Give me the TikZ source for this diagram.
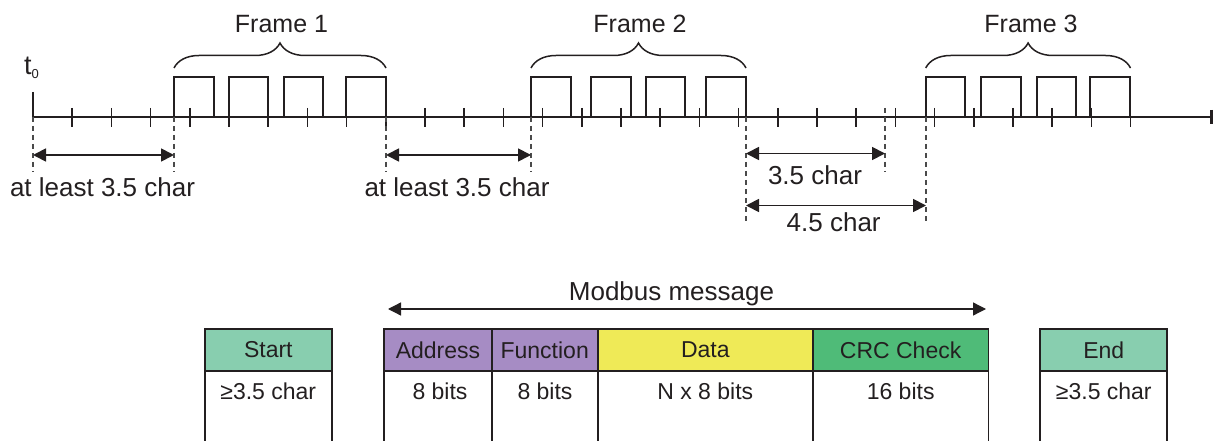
\documentclass[tikz,border=0pt]{standalone}
\usepackage{fontspec}
\setmainfont{Liberation Sans}
\usetikzlibrary{arrows.meta,decorations.pathreplacing}
\definecolor{ink}{HTML}{231F20}
\definecolor{mint}{HTML}{88CEAF}
\definecolor{lav}{HTML}{A68CC4}
\definecolor{yel}{HTML}{EFEA57}
\definecolor{grn}{HTML}{4FBB78}
\definecolor{dashc}{HTML}{4A4A4A}
\begin{document}
\begin{tikzpicture}[x=1pt,y=-1pt,
  axisline/.style={line width=2.2pt, draw=ink},
  tickline/.style={line width=1.5pt, draw=ink},
  pulse/.style={line width=1.8pt, draw=ink},
  guide/.style={line width=1.2pt, draw=dashc, dash pattern=on 5pt off 4pt},
  dim/.style={line width=1.8pt, draw=ink, {Triangle[length=13pt,width=13pt]}-{Triangle[length=13pt,width=13pt]}},
  msgarrow/.style={line width=1.3pt, draw=ink, {Triangle[length=13pt,width=13pt]}-{Triangle[length=13pt,width=13pt]}},
  framebrace/.style={line width=1.5pt, draw=ink, decorate, decoration={brace, amplitude=25pt}},
  lbl/.style={font=\fontsize{26}{30}\selectfont, text=ink, inner sep=0pt, anchor=base},
  framelbl/.style={font=\fontsize{25}{30}\selectfont, text=ink, inner sep=0pt, anchor=base},
  cell/.style={draw=ink, line width=1.7pt, inner sep=0pt, outer sep=0pt, minimum height=42pt, font=\fontsize{23}{27}\selectfont, text=ink},
  celltext/.style={font=\fontsize{23}{27}\selectfont, text=ink, inner sep=0pt, anchor=base},
  cellside/.style={draw=ink, line width=1.7pt},
]
\useasboundingbox (0,0) rectangle (1213,441);

% time axis
\coordinate (ax0) at (33,117);
\coordinate (ax1) at (1211,117);
\draw[axisline] (ax0) -- (ax1);
\draw[line width=2.6pt, draw=ink] (1211.5,110) -- (1211.5,124);
\coordinate (t0top) at (33,92);
\draw[line width=1.8pt, draw=ink] (t0top) -- (ax0);
\node[anchor=base west, inner sep=0pt, text=ink, font=\fontsize{27}{30}\selectfont] (t0) at (24,75)
  {t\raisebox{-3.5pt}{\fontsize{13}{13}\selectfont 0}};

% ticks
\foreach \k in {1,...,28} \draw[tickline] ({33+39.2*\k},108) -- ({33+39.2*\k},127);

% pulses
\foreach \a/\b in {174/213.7, 228.7/268, 284/323.3, 346/386,
                   531/570.7, 591/630.7, 645.7/685, 706.3/746,
                   925.7/965, 981.3/1021, 1037/1076.3, 1090/1130}
  \draw[pulse] (\a,117) -- (\a,77) -- (\b,77) -- (\b,117);

% braces and frame labels
\coordinate (b1a) at (174,68);   \coordinate (b1b) at (386,68);
\coordinate (b2a) at (531,68);   \coordinate (b2b) at (746,68);
\coordinate (b3a) at (925.7,68); \coordinate (b3b) at (1130.5,68);
\draw[framebrace] (b1a) -- (b1b);
\draw[framebrace] (b2a) -- (b2b);
\draw[framebrace] (b3a) -- (b3b);
\node[framelbl] (f1) at (281.5,32.3) {Frame 1};
\node[framelbl] (f2) at (640,32.3) {Frame 2};
\node[framelbl] (f3) at (1031,32.3) {Frame 3};

% dashed guides
\coordinate (g1t) at (33,117);   \coordinate (g1b) at (33,172);
\coordinate (g2t) at (174,117);  \coordinate (g2b) at (174,172);
\coordinate (g3t) at (386,117);  \coordinate (g3b) at (386,172);
\coordinate (g4t) at (531,117);  \coordinate (g4b) at (531,172);
\coordinate (g5t) at (746,117);  \coordinate (g5b) at (746,221);
\coordinate (g6t) at (885,108);  \coordinate (g6b) at (885,172);
\coordinate (g7t) at (926,117);  \coordinate (g7b) at (926,221);
\foreach \g in {1,...,7} \draw[guide] (g\g t) -- (g\g b);

% dimension arrows
\coordinate (d1a) at (33,155);   \coordinate (d1b) at (174,155);
\coordinate (d2a) at (386,155);  \coordinate (d2b) at (531,155);
\coordinate (d3a) at (746,153.5);\coordinate (d3b) at (885,153.5);
\coordinate (d4a) at (746,205.5);\coordinate (d4b) at (926,205.5);
\draw[dim] (d1a) -- (d1b);
\draw[dim] (d2a) -- (d2b);
\draw[dim] (d3a) -- (d3b);
\draw[dim] (d4a) -- (d4b);
\node[lbl] (l1) at (102.5,196.5) {at least 3.5 char};
\node[lbl] (l2) at (457,196.5) {at least 3.5 char};
\node[lbl] (l3) at (815,184.3) {3.5 char};
\node[lbl] (l4) at (833.7,231.7) {4.5 char};

% Modbus message
\node[lbl] (msg) at (671.5,300) {Modbus message};
\coordinate (m0) at (388,309); \coordinate (m1) at (986,309);
\draw[msgarrow] (m0) -- (m1);

% table
\node[cell, fill=mint, minimum width=126.7pt] (start) at (268.3,350) {Start};
\node[cell, fill=lav, minimum width=107.4pt] (addr) at (438,350) {Address};
\node[cell, fill=lav, minimum width=106pt] (func) at (544.7,350) {Function};
\node[cell, fill=yel, minimum width=215.2pt] (data) at (705.3,350) {Data};
\node[cell, fill=grn, minimum width=175.4pt] (crc) at (900.65,350) {CRC Check};
\node[cell, fill=mint, minimum width=127pt] (endbox) at (1103.8,350) {End};
\foreach \n in {start,addr,func,data,crc,endbox} {
  \draw[cellside] (\n.south west) -- ++(0,75);
  \draw[cellside] (\n.south east) -- ++(0,75);
}
\node[celltext] (startv) at (268.3,399) {≥3.5 char};
\node[celltext] (addrv) at (440,399) {8 bits};
\node[celltext] (funcv) at (545,399) {8 bits};
\node[celltext] (datav) at (705.3,399) {N x 8 bits};
\node[celltext] (crcv) at (900.65,399) {16 bits};
\node[celltext] (endv) at (1103.8,399) {≥3.5 char};
\end{tikzpicture}
\end{document}
